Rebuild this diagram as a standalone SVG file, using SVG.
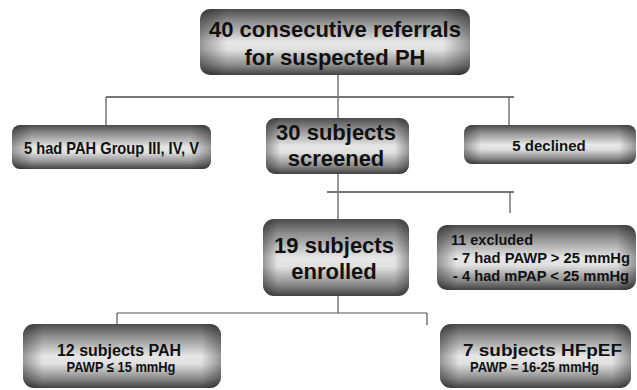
<svg xmlns="http://www.w3.org/2000/svg" width="637" height="390" viewBox="0 0 637 390">
<defs>
<linearGradient id="gv" x1="0" y1="0" x2="0" y2="1">
<stop offset="0" stop-color="#4c4c4c"/>
<stop offset="0.18" stop-color="#8a8a8a"/>
<stop offset="0.5" stop-color="#e6e6e6"/>
<stop offset="0.62" stop-color="#e0e0e0"/>
<stop offset="0.85" stop-color="#8c8c8c"/>
<stop offset="1" stop-color="#424242"/>
</linearGradient>
<linearGradient id="gh" x1="0" y1="0" x2="1" y2="0">
<stop offset="0" stop-color="#000" stop-opacity="0.35"/>
<stop offset="0.1" stop-color="#000" stop-opacity="0"/>
<stop offset="0.9" stop-color="#000" stop-opacity="0"/>
<stop offset="1" stop-color="#000" stop-opacity="0.35"/>
</linearGradient>
</defs>
<style>
.box{fill:url(#gv);}
.ov{fill:url(#gh);}
.hl{stroke:#777;stroke-width:2;fill:none;}
.vl{stroke:#555;stroke-width:1.2;fill:none;}
text{font-family:"Liberation Sans",Arial,sans-serif;font-weight:bold;fill:#111;}
.big{font-size:22px;text-anchor:middle;}
.mid{font-size:16px;text-anchor:middle;}
.nar{font-size:17px;text-anchor:middle;}
.sm{font-size:15px;text-anchor:middle;}
.ex{font-size:15px;}
.sub{font-size:15px;text-anchor:middle;}
</style>
<rect width="637" height="390" fill="#fff"/>
<g id="connectors">
<line class="vl" x1="338" y1="75" x2="338" y2="118"/>
<line class="hl" x1="106" y1="97" x2="514" y2="97"/>
<line class="vl" x1="106" y1="97" x2="106" y2="125"/>
<line class="vl" x1="509" y1="97" x2="509" y2="125"/>
<line class="vl" x1="338" y1="174" x2="338" y2="219"/>
<line class="hl" x1="327" y1="192" x2="514" y2="192"/>
<line class="vl" x1="510" y1="192" x2="510" y2="213"/>
<line class="vl" x1="338" y1="296" x2="338" y2="313"/>
<line class="vl" x1="117" y1="313" x2="427" y2="313"/>
<line class="vl" x1="117" y1="313" x2="117" y2="324"/>
<line class="vl" x1="427" y1="313" x2="427" y2="325"/>
</g>
<g id="referrals">
<rect class="box" x="200" y="9" width="270" height="66" rx="10"/>
<rect class="ov" x="200" y="9" width="270" height="66" rx="10"/>
<text class="big" x="335" y="37">40 consecutive referrals</text>
<text class="big" x="335" y="65">for suspected PH</text>
</g>
<g id="group345">
<rect class="box" x="12" y="125" width="199" height="44" rx="8"/>
<rect class="ov" x="12" y="125" width="199" height="44" rx="8"/>
<text class="nar" x="111.5" y="154" textLength="175" lengthAdjust="spacingAndGlyphs">5 had PAH Group III, IV, V</text>
</g>
<g id="screened">
<rect class="box" x="266" y="118" width="143" height="56" rx="9"/>
<rect class="ov" x="266" y="118" width="143" height="56" rx="9"/>
<text class="big" x="336" y="140">30 subjects</text>
<text class="big" x="336" y="166">screened</text>
</g>
<g id="declined">
<rect class="box" x="464" y="125" width="172" height="39" rx="8"/>
<rect class="ov" x="464" y="125" width="172" height="39" rx="8"/>
<text class="sm" x="549" y="151">5 declined</text>
</g>
<g id="enrolled">
<rect class="box" x="263" y="219" width="146" height="77" rx="11"/>
<rect class="ov" x="263" y="219" width="146" height="77" rx="11"/>
<text class="big" x="334" y="253">19 subjects</text>
<text class="big" x="334" y="279">enrolled</text>
</g>
<g id="excluded">
<rect class="box" x="437" y="225" width="199" height="65" rx="10"/>
<rect class="ov" x="437" y="225" width="199" height="65" rx="10"/>
<text class="ex" x="451" y="245" textLength="82" lengthAdjust="spacingAndGlyphs">11 excluded</text>
<text class="ex" x="453" y="263" textLength="177" lengthAdjust="spacingAndGlyphs">- 7 had PAWP &gt; 25 mmHg</text>
<text class="ex" x="453" y="281" textLength="176" lengthAdjust="spacingAndGlyphs">- 4 had mPAP &lt; 25 mmHg</text>
</g>
<g id="pah">
<rect class="box" x="23" y="324" width="198" height="64" rx="11"/>
<rect class="ov" x="23" y="324" width="198" height="64" rx="11"/>
<text class="mid" x="119" y="356">12 subjects PAH</text>
<text class="sub" x="121" y="372" textLength="109" lengthAdjust="spacingAndGlyphs">PAWP ≤ 15 mmHg</text>
</g>
<g id="hfpef">
<rect class="box" x="440" y="324" width="191" height="64" rx="11"/>
<rect class="ov" x="440" y="324" width="191" height="64" rx="11"/>
<text class="mid" x="542.5" y="356" textLength="159" lengthAdjust="spacingAndGlyphs">7 subjects HFpEF</text>
<text class="sub" x="534.5" y="372" textLength="129" lengthAdjust="spacingAndGlyphs">PAWP = 16-25 mmHg</text>
</g>
</svg>
